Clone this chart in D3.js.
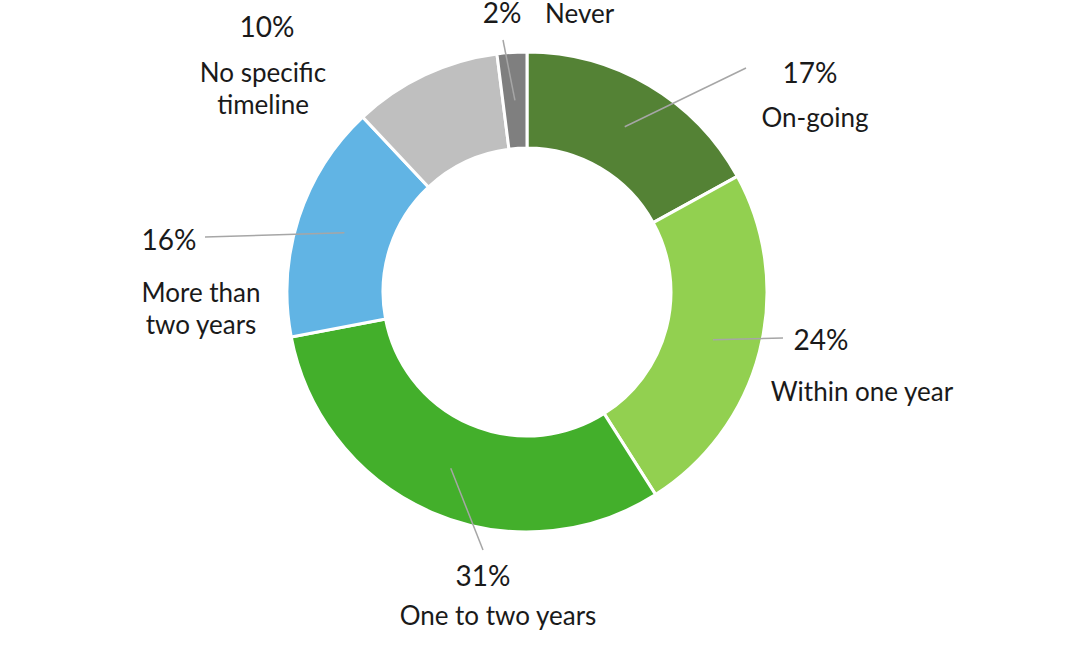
<!DOCTYPE html>
<html>
<head>
<meta charset="utf-8">
<script src="https://cdn.jsdelivr.net/npm/d3@7"></script>
<style>
  html, body { margin: 0; padding: 0; background: #fff; }
  svg { display: block; }
  text { font-family: Lato, "Open Sans", sans-serif; fill: #1a1a1a; }
</style>
</head>
<body>
<svg id="chart" width="1080" height="651"></svg>
<script>
// ---- data ----
const categories = ["On-going", "Within one year", "One to two years", "More than two years", "No specific timeline", "Never"];
const values = [17, 24, 31, 16, 10, 2];
const colors = ["#548235", "#92D050", "#43AF2B", "#61B4E4", "#BFBFBF", "#7F7F7F"];

// ---- label layout (text placement only) ----
const labelLayout = [
  { pct: [810, 83],  lines: ["On-going"], lx: 815, ly: 127, anchor: "middle", lineEnd: [746, 68] },
  { pct: [821, 350], lines: ["Within one year"], lx: 862, ly: 401, anchor: "middle", lineEnd: [783, 338] },
  { pct: [483, 586], lines: ["One to two years"], lx: 498, ly: 625, anchor: "middle", lineEnd: [483, 550] },
  { pct: [169, 250], lines: ["More than", "two years"], lx: 201, ly: 302, anchor: "middle", lineEnd: [205, 237] },
  { pct: [267, 37],  lines: ["No specific", "timeline"], lx: 263, ly: 82, anchor: "middle", lineEnd: null },
  { pct: [502, 23],  lines: [], lx: 545, ly: 23, anchor: "start", lineEnd: [503, 40], side: "Never" }
];

const svg = d3.select("#chart");
const cx = 527, cy = 292, outerR = 240, innerR = 144;

const pie = d3.pie().sort(null).value(d => d)(values);
const arc = d3.arc().innerRadius(innerR).outerRadius(outerR);
const midArc = d3.arc().innerRadius((innerR + outerR) / 2).outerRadius((innerR + outerR) / 2);

const g = svg.append("g").attr("transform", `translate(${cx},${cy})`);

g.selectAll("path.slice")
  .data(pie)
  .enter().append("path")
  .attr("class", "slice")
  .attr("d", arc)
  .attr("fill", (d, i) => colors[i])
  .attr("stroke", "#fff")
  .attr("stroke-width", 3);

// leader lines
pie.forEach((d, i) => {
  const L = labelLayout[i];
  if (!L.lineEnd) return;
  const c = midArc.centroid(d);
  svg.append("line")
    .attr("x1", cx + c[0]).attr("y1", cy + c[1])
    .attr("x2", L.lineEnd[0]).attr("y2", L.lineEnd[1])
    .attr("stroke", "#A6A6A6").attr("stroke-width", 1.5);
});

// labels
pie.forEach((d, i) => {
  const L = labelLayout[i];
  svg.append("text")
    .attr("x", L.pct[0]).attr("y", L.pct[1])
    .attr("text-anchor", "middle")
    .attr("font-size", 28)
    .text(values[i] + "%");
  if (L.side) {
    svg.append("text")
      .attr("x", L.lx).attr("y", L.ly)
      .attr("text-anchor", "start")
      .attr("font-size", 26)
      .text(categories[i]);
  } else {
    L.lines.forEach((t, k) => {
      svg.append("text")
        .attr("x", L.lx).attr("y", L.ly + k * 32)
        .attr("text-anchor", L.anchor)
        .attr("font-size", 26)
        .text(t);
    });
  }
});
</script>
</body>
</html>
